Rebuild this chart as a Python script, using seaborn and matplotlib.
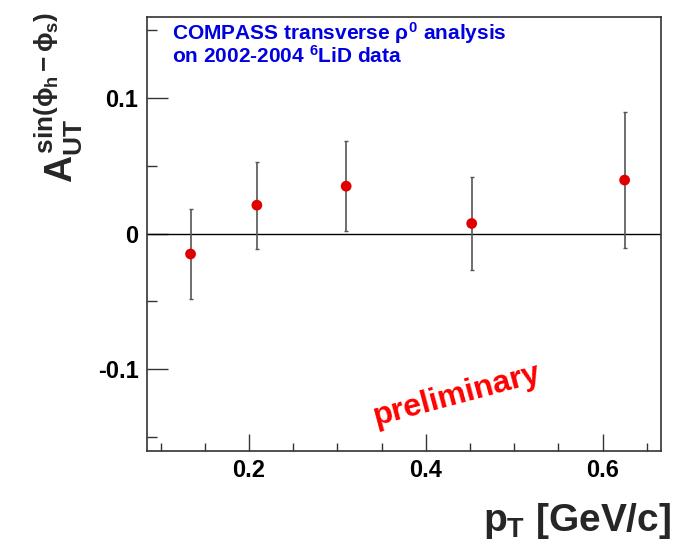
import numpy as np
import pandas as pd
import matplotlib
matplotlib.use('Agg')
import matplotlib.pyplot as plt
from matplotlib.ticker import MultipleLocator, FixedLocator, FuncFormatter
import seaborn as sns

# values
pt = [0.134, 0.209, 0.310, 0.452, 0.625]
asym = [-0.015, 0.021, 0.035, 0.0075, 0.0395]
asym_err = [0.033, 0.032, 0.033, 0.034, 0.050]
x_ticks = [0.2, 0.4, 0.6]
y_ticks = [-0.1, 0.0, 0.1]

df = pd.DataFrame({'pt': pt, 'asym': asym, 'err': asym_err})

sns.set_style('ticks')
plt.rcParams['font.family'] = ['Liberation Sans', 'DejaVu Sans']
plt.rcParams['font.weight'] = 'bold'
plt.rcParams['mathtext.fontset'] = 'custom'
plt.rcParams['mathtext.rm'] = 'Liberation Sans:bold'
plt.rcParams['mathtext.it'] = 'Liberation Sans:bold'
plt.rcParams['mathtext.bf'] = 'Liberation Sans:bold'

fig = plt.figure(figsize=(6.73, 5.55), dpi=100)
ax = fig.add_axes([0.218, 0.188, 0.764, 0.782])

ax.axhline(0, color='black', lw=1.0, zorder=1)
ax.errorbar(df['pt'], df['asym'], yerr=df['err'], fmt='none',
            ecolor='#555555', elinewidth=1.2, capsize=1.5, capthick=1.0, zorder=2)
sns.scatterplot(data=df, x='pt', y='asym', ax=ax, color='#e00000',
                s=60, edgecolor='none', zorder=3, legend=False)

ax.set_xlim(0.0844, 0.666)
ax.set_ylim(-0.16, 0.16)

ax.xaxis.set_major_locator(FixedLocator(x_ticks))
ax.yaxis.set_major_locator(FixedLocator(y_ticks))
ax.xaxis.set_minor_locator(MultipleLocator(0.05))
ax.yaxis.set_minor_locator(MultipleLocator(0.05))
ax.xaxis.set_major_formatter(FuncFormatter(lambda v, p: '%g' % round(v, 3)))
ax.yaxis.set_major_formatter(FuncFormatter(lambda v, p: '%g' % round(v, 3)))

ax.tick_params(axis='both', which='both', direction='in', colors='#333333',
               labelcolor='black', labelsize=17, width=1.0)
ax.tick_params(axis='x', which='major', length=12, pad=6)
ax.tick_params(axis='x', which='minor', length=6)
ax.tick_params(axis='y', which='major', length=15, pad=6)
ax.tick_params(axis='y', which='minor', length=7.5)
for lab in ax.get_xticklabels() + ax.get_yticklabels():
    lab.set_fontweight('bold')

for sp in ax.spines.values():
    sp.set_visible(True)
    sp.set_color('#333333')
    sp.set_linewidth(1.2)

ax.set_xlabel(r'$p_{T}$ [GeV/c]', fontsize=28, fontweight='bold', loc='right')
ax.xaxis.set_label_coords(1.02, -0.115)
ax.xaxis.label.set_va('top')
ax.set_ylabel(r'$A_{UT}^{sin(\phi_{h}\,{-}\,\phi_{s})}$', fontsize=27, loc='top')
ax.yaxis.set_label_coords(-0.12, 1.01)

ax.text(0.05, 0.992, 'COMPASS transverse $\\rho^{0}$ analysis\non 2002-2004 $^{6}$LiD data',
        transform=ax.transAxes, color='#0000e0', fontsize=15, fontweight='bold',
        va='top', ha='left', linespacing=0.95)

ax.text(0.436, -0.119, 'preliminary', color='#ff0000', fontsize=23,
        fontweight='bold', rotation=15, ha='center', va='center')

fig.savefig('out.png', dpi=100)
